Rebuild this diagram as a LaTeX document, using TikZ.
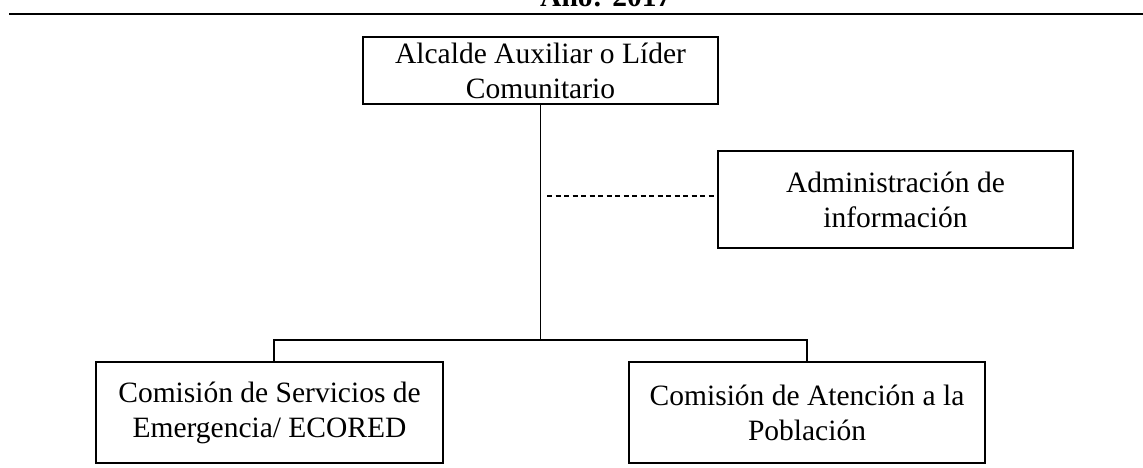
\documentclass[tikz,border=0pt]{standalone}
\usepackage{fontspec}
\setmainfont{Liberation Serif}
\begin{document}
\begin{tikzpicture}[x=1pt,y=-1pt,
  orgbox/.style={draw, line width=1.7pt, rectangle, align=center, inner sep=0pt,
    font=\fontsize{29.5}{35}\selectfont},
  conn/.style={line width=1.7pt},
  dashconn/.style={line width=1.3pt, dash pattern=on 5pt off 3.5pt}]
\useasboundingbox (0,0) rectangle (1143,468);
\node[anchor=base west, font=\bfseries\fontsize{29.5}{35}\selectfont, inner sep=0pt] (title) at (540,7) {Año: 2017};
\coordinate (r0) at (9,14);
\coordinate (r1) at (1143,14);
\draw[line width=1.9pt] (r0) -- (r1);
\node[orgbox, minimum width=355pt, minimum height=67pt] (top) at (540.5,70.5) {Alcalde Auxiliar o Líder\\Comunitario};
\node[orgbox, minimum width=355pt, minimum height=97pt] (admin) at (895.5,199.5) {Administración de\\información};
\node[orgbox, minimum width=347pt, minimum height=101pt] (left) at (269.5,412.5) {Comisión de Servicios de\\Emergencia/ ECORED};
\node[orgbox, minimum width=356pt, minimum height=101pt] (right) at (807,412.5) {Comisión de Atención a la\\Población};
\coordinate (bl) at (274,340);
\coordinate (br) at (807,340);
\coordinate (d0) at (547,196);
\draw[conn] (top.south) -- (top.south |- bl);
\draw[conn] (bl |- left.north) -- (bl) -- (br) -- (right.north);
\draw[dashconn] (d0) -- (d0 -| admin.west);
\end{tikzpicture}
\end{document}
